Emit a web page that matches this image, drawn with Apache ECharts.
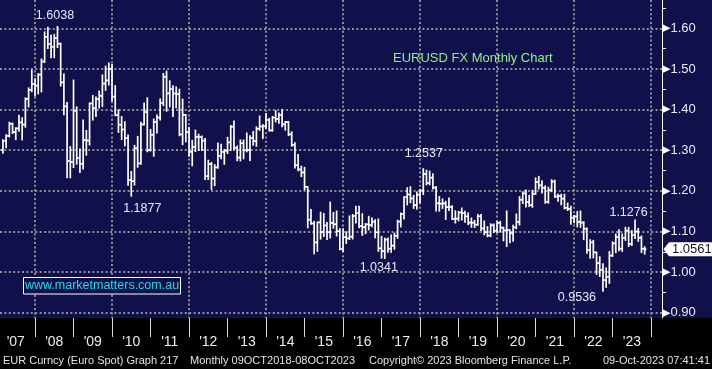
<!DOCTYPE html>
<html><head><meta charset="utf-8">
<script src="https://cdn.jsdelivr.net/npm/echarts@6/dist/echarts.min.js"></script>
<style>html,body{margin:0;padding:0;background:#000;}#c{width:712px;height:369px;}</style>
</head><body><div id="c"></div>
<script>
// ---------------- DATA ----------------
const firstMonth = '2007-02';   // first monthly bar; bars are consecutive months to Oct 2023
const opens = [
  1.2999,1.3231,1.3354,1.3651,1.3447,1.3537,1.3683,1.3632,1.4265,1.4487,1.4628,
  1.4589,1.4861,1.5183,1.5790,1.5613,1.5546,1.5760,1.5620,1.4670,1.4078,1.2730,1.2710,
  1.3971,1.2803,1.2667,1.3249,1.3236,1.4150,1.4033,1.4261,1.4336,1.4640,1.4720,1.5002,
  1.4321,1.3864,1.3628,1.3509,1.3295,1.2270,1.2238,1.3048,1.2675,1.3634,1.3938,1.3000,
  1.3380,1.3696,1.3804,1.4165,1.4807,1.4397,1.4502,1.4395,1.4380,1.3390,1.3870,1.3446,
  1.2961,1.3081,1.3327,1.3322,1.3237,1.2364,1.2660,1.2302,1.2577,1.2860,1.2959,1.2988,
  1.3193,1.3578,1.3058,1.2819,1.3171,1.2999,1.3009,1.3302,1.3224,1.3528,1.3584,1.3590,
  1.3743,1.3486,1.3802,1.3770,1.3868,1.3636,1.3692,1.3390,1.3131,1.2631,1.2526,1.2452,
  1.2098,1.1291,1.1196,1.0731,1.1224,1.0987,1.1147,1.0985,1.1211,1.1177,1.1005,1.0566,
  1.0861,1.0832,1.0872,1.1381,1.1455,1.1131,1.1105,1.1174,1.1157,1.1240,1.0980,1.0586,
  1.0517,1.0798,1.0575,1.0652,1.0895,1.1243,1.1426,1.1842,1.1910,1.1813,1.1646,1.1904,
  1.2005,1.2414,1.2194,1.2324,1.2079,1.1693,1.1684,1.1690,1.1601,1.1604,1.1312,1.1316,
  1.1467,1.1448,1.1372,1.1217,1.1215,1.1168,1.1373,1.1076,1.0986,1.0899,1.1152,1.1017,
  1.1213,1.1093,1.1025,1.1031,1.0955,1.1099,1.1234,1.1779,1.1936,1.1722,1.1646,1.1928,
  1.2216,1.2136,1.2074,1.1730,1.2020,1.2228,1.1858,1.1870,1.1808,1.1580,1.1558,1.1338,
  1.1370,1.1235,1.1218,1.1067,1.0544,1.0733,1.0484,1.0220,1.0054,0.9802,0.9883,1.0406,
  1.0705,1.0863,1.0576,1.0839,1.1020,1.0690,1.0909,1.0998,1.0843,1.0573
];
const highs = [
  1.3250,1.3375,1.3682,1.3660,1.3545,1.3852,1.3790,1.4280,1.4527,1.4967,1.4752,
  1.4877,1.5238,1.5904,1.6018,1.5819,1.5842,1.6038,1.5628,1.4867,1.4167,1.3080,1.4719,
  1.4060,1.3020,1.3738,1.3480,1.4155,1.4338,1.4301,1.4448,1.4843,1.5061,1.5144,1.5099,
  1.4580,1.3988,1.3820,1.3690,1.3366,1.2468,1.3111,1.3333,1.3681,1.4157,1.4282,1.3500,
  1.3760,1.3862,1.4250,1.4882,1.4940,1.4700,1.4580,1.4549,1.4495,1.4247,1.3870,1.3550,
  1.3234,1.3487,1.3386,1.3340,1.3283,1.2747,1.2692,1.2637,1.3173,1.3140,1.3010,1.3308,
  1.3600,1.3711,1.3096,1.3243,1.3243,1.3416,1.3346,1.3452,1.3568,1.3833,1.3620,1.3893,
  1.3775,1.3824,1.3967,1.3906,1.3993,1.3700,1.3700,1.3444,1.3176,1.2887,1.2601,1.2570,
  1.2100,1.1535,1.1240,1.1225,1.1467,1.1436,1.1216,1.1714,1.1460,1.1495,1.1060,1.1060,
  1.0986,1.1376,1.1410,1.1615,1.1616,1.1428,1.1186,1.1366,1.1327,1.1278,1.1300,1.0874,
  1.0829,1.0829,1.0906,1.0951,1.1268,1.1446,1.1846,1.2070,1.2092,1.1880,1.1961,1.2023,
  1.2537,1.2500,1.2476,1.2414,1.2097,1.1852,1.1791,1.1734,1.1815,1.1625,1.1500,1.1486,
  1.1570,1.1489,1.1448,1.1324,1.1265,1.1412,1.1412,1.1250,1.1110,1.1180,1.1176,1.1240,
  1.1239,1.1095,1.1496,1.1035,1.1147,1.1422,1.1848,1.1966,1.2011,1.1881,1.2004,1.2310,
  1.2349,1.2243,1.2113,1.2080,1.2266,1.2254,1.1908,1.1909,1.1909,1.1692,1.1616,1.1386,
  1.1483,1.1495,1.1233,1.1076,1.0787,1.0774,1.0486,1.0369,1.0198,1.0094,1.0497,1.0736,
  1.0929,1.1033,1.0930,1.1095,1.1092,1.1012,1.1276,1.1065,1.0882,1.0617
];
const lows = [
  1.2930,1.3070,1.3335,1.3418,1.3268,1.3475,1.3261,1.3575,1.4072,1.4447,1.4340,
  1.4395,1.4442,1.5164,1.5510,1.5285,1.5285,1.5533,1.4588,1.3881,1.2330,1.2329,1.2580,
  1.2664,1.2457,1.2547,1.2885,1.3135,1.3748,1.3834,1.4045,1.4082,1.4481,1.4612,1.4218,
  1.3856,1.3444,1.3268,1.3114,1.2143,1.1877,1.2152,1.2589,1.2661,1.3628,1.2969,1.2990,
  1.2860,1.3430,1.3750,1.4105,1.3968,1.4075,1.3837,1.4052,1.3362,1.3145,1.3213,1.2858,
  1.2624,1.2975,1.3003,1.3000,1.2287,1.2288,1.2042,1.2134,1.2563,1.2800,1.2661,1.2926,
  1.3000,1.3017,1.2750,1.2745,1.2795,1.2968,1.2755,1.3131,1.3105,1.3497,1.3295,1.3545,
  1.3480,1.3476,1.3704,1.3673,1.3586,1.3503,1.3366,1.3105,1.2571,1.2500,1.2358,1.2034,
  1.1098,1.1183,1.0458,1.0520,1.0819,1.0885,1.0809,1.0847,1.1087,1.0897,1.0556,1.0516,
  1.0711,1.0810,1.0822,1.1218,1.1098,1.0912,1.0952,1.1046,1.1122,1.0852,1.0518,1.0352,
  1.0341,1.0494,1.0494,1.0569,1.0839,1.1118,1.1312,1.1662,1.1717,1.1575,1.1554,1.1718,
  1.1916,1.2154,1.2155,1.2055,1.1510,1.1508,1.1576,1.1301,1.1526,1.1302,1.1216,1.1269,
  1.1289,1.1234,1.1176,1.1110,1.1107,1.1160,1.1028,1.0926,1.0879,1.0879,1.0981,1.0981,
  1.0992,1.0778,1.0636,1.0727,1.0767,1.1077,1.1168,1.1696,1.1612,1.1622,1.1603,1.1924,
  1.2054,1.1952,1.1704,1.1704,1.1986,1.1847,1.1752,1.1664,1.1563,1.1524,1.1186,1.1222,
  1.1121,1.1106,1.0806,1.0471,1.0349,1.0359,0.9952,0.9901,0.9536,0.9632,0.9730,1.0393,
  1.0483,1.0533,1.0516,1.0788,1.0635,1.0662,1.0834,1.0766,1.0488,1.0448
];
const closes = [
  1.3231,1.3354,1.3651,1.3447,1.3537,1.3683,1.3632,1.4265,1.4487,1.4628,1.4589,
  1.4861,1.5183,1.5790,1.5613,1.5546,1.5760,1.5620,1.4670,1.4078,1.2730,1.2710,1.3971,
  1.2803,1.2667,1.3249,1.3236,1.4150,1.4033,1.4261,1.4336,1.4640,1.4720,1.5002,1.4321,
  1.3864,1.3628,1.3509,1.3295,1.2270,1.2238,1.3048,1.2675,1.3634,1.3938,1.3000,1.3380,
  1.3696,1.3804,1.4165,1.4807,1.4397,1.4502,1.4395,1.4380,1.3390,1.3870,1.3446,1.2961,
  1.3081,1.3327,1.3322,1.3237,1.2364,1.2660,1.2302,1.2577,1.2860,1.2959,1.2988,1.3193,
  1.3578,1.3058,1.2819,1.3171,1.2999,1.3009,1.3302,1.3224,1.3528,1.3584,1.3590,1.3743,
  1.3486,1.3802,1.3770,1.3868,1.3636,1.3692,1.3390,1.3131,1.2631,1.2526,1.2452,1.2098,
  1.1291,1.1196,1.0731,1.1224,1.0987,1.1147,1.0985,1.1211,1.1177,1.1005,1.0566,1.0861,
  1.0832,1.0872,1.1381,1.1455,1.1131,1.1105,1.1174,1.1157,1.1240,1.0980,1.0586,1.0517,
  1.0798,1.0575,1.0652,1.0895,1.1243,1.1426,1.1842,1.1910,1.1813,1.1646,1.1904,1.2005,
  1.2414,1.2194,1.2324,1.2079,1.1693,1.1684,1.1690,1.1601,1.1604,1.1312,1.1316,1.1467,
  1.1448,1.1372,1.1217,1.1215,1.1168,1.1373,1.1076,1.0986,1.0899,1.1152,1.1017,1.1213,
  1.1093,1.1025,1.1031,1.0955,1.1099,1.1234,1.1779,1.1936,1.1722,1.1646,1.1928,1.2216,
  1.2136,1.2074,1.1730,1.2020,1.2228,1.1858,1.1870,1.1808,1.1580,1.1558,1.1338,1.1370,
  1.1235,1.1218,1.1067,1.0544,1.0733,1.0484,1.0220,1.0054,0.9802,0.9883,1.0406,1.0705,
  1.0863,1.0576,1.0839,1.1020,1.0690,1.0909,1.0998,1.0843,1.0573,1.0561
];
const yTickLabels  = ['0.90','1.00','1.10','1.20','1.30','1.40','1.50','1.60'];
const yMinorLabels = ['0.95','1.05','1.15','1.25','1.35','1.45','1.55','1.65'];
const yearLabels = ["'07","'08","'09","'10","'11","'12","'13","'14","'15","'16","'17","'18","'19","'20","'21","'22","'23"];
const annotMonths = ['2008-07','2010-06','2018-01','2017-01','2023-07','2022-09'];
const annotValues = [1.6038, 1.1877, 1.2537, 1.0341, 1.1276, 0.9536];
const titleText = 'EURUSD FX Monthly Chart';
const watermarkText = 'www.marketmatters.com.au';
const footerA = 'EUR Curncy (Euro Spot) Graph 217';
const footerB = 'Monthly 09OCT2018-08OCT2023';
const footerC = 'Copyright\u00A9 2023 Bloomberg Finance L.P.';
const footerD = '09-Oct-2023 07:41:41';

// ---------------- HELPERS ----------------
const BASE_YEAR = 2007;
function monthIndex(s) { const p = s.split('-'); return (+p[0] - BASE_YEAR) * 12 + (+p[1] - 1); }
function barX(s) { return monthIndex(s) + 1; }   // bar drawn at month end
const startIdx = monthIndex(firstMonth);
const ohlc = closes.map((c, k) => [startIdx + k + 1, opens[k], highs[k], lows[k], c]);
const yearMid = yearLabels.map((l, k) => k * 12 + 6);
const yearTicks = yearLabels.map((l, k) => (k + 1) * 12);
const gridV = yearTicks.filter((v, k) => k % 2 === 0);

const NAVY = '#10104a';
const FONT = '"Liberation Sans", Arial, sans-serif';
const X_MIN = 1.09, X_MAX = 207.4, Y_MIN = 0.887, Y_MAX = 1.6697;
const gridLine = { color: '#8e8e96', width: 2, type: [2, 2.4] };
const annotOffsets = [[-2.5, -11], [11, 13], [0.5, -15], [-6, 9], [-6.5, -8], [-26, 6.5]];

const chart = echarts.init(document.getElementById('c'), null, { renderer: 'canvas' });

chart.setOption({
  animation: false,
  backgroundColor: NAVY,
  title: {
    text: titleText, left: 393, top: 52, padding: 0,
    textStyle: { color: '#8fef8f', fontSize: 13, fontWeight: 'normal', fontFamily: FONT }
  },
  grid: { left: 0, right: 50, top: 0, bottom: 51, outerBoundsMode: 'none', containLabel: false },
  xAxis: [
    { // footer axis: year ticks + labels
      type: 'value', min: X_MIN, max: X_MAX, position: 'bottom',
      axisLine: { show: false },
      axisTick: { show: true, customValues: yearTicks, length: 19, lineStyle: { color: '#d8d8d8', width: 1 } },
      axisLabel: {
        show: true, customValues: yearMid, margin: 17,
        formatter: v => yearLabels[Math.round((v - 6) / 12)],
        color: '#ececec', fontSize: 14, fontFamily: FONT
      },
      splitLine: { show: false }
    },
    { // vertical dotted grid every two years
      type: 'value', min: X_MIN, max: X_MAX, position: 'top',
      axisLine: { show: false }, axisLabel: { show: false },
      axisTick: { show: false, customValues: gridV },
      splitLine: { show: true, lineStyle: gridLine }
    }
  ],
  yAxis: [
    {
      type: 'value', min: Y_MIN, max: Y_MAX, position: 'right',
      axisLine: { show: true, lineStyle: { color: '#ffffff', width: 1 } },
      axisTick: { show: false, customValues: yTickLabels.map(Number) },
      axisLabel: {
        show: true, customValues: yTickLabels.map(Number), margin: 0,
        formatter: v => '{t|\u25B6}{v|' + v.toFixed(2) + '}',
        rich: {
          t: { fontSize: 11, color: '#ffffff', fontFamily: '"DejaVu Sans", sans-serif' },
          v: { fontSize: 13, color: '#e8ebf8', fontFamily: FONT, padding: [0, 0, 0, 0] }
        }
      },
      splitLine: { show: true, lineStyle: gridLine }
    },
    {
      type: 'value', min: Y_MIN, max: Y_MAX, position: 'right',
      axisLine: { show: false }, axisLabel: { show: false }, splitLine: { show: false },
      axisTick: { show: true, customValues: yMinorLabels.map(Number), length: 4, lineStyle: { color: '#ffffff', width: 1 } }
    }
  ],
  series: [{
    type: 'custom',
    name: 'EURUSD',
    xAxisIndex: 0, yAxisIndex: 0,
    data: ohlc,
    encode: { x: 0, y: [1, 2, 3, 4] },
    renderItem: function (params, api) {
      const x = api.value(0);
      const o = api.coord([x, api.value(1)]);
      const h = api.coord([x, api.value(2)]);
      const l = api.coord([x, api.value(3)]);
      const c = api.coord([x, api.value(4)]);
      const w = api.size([1, 0])[0] * 0.55;
      const st = { stroke: '#ffffff', lineWidth: 1.7 };
      return {
        type: 'group',
        children: [
          { type: 'line', shape: { x1: h[0], y1: h[1] - 0.8, x2: l[0], y2: l[1] + 0.8 }, style: st },
          { type: 'line', shape: { x1: o[0] - w, y1: o[1], x2: o[0], y2: o[1] }, style: st },
          { type: 'line', shape: { x1: c[0], y1: c[1], x2: c[0] + w, y2: c[1] }, style: st }
        ]
      };
    },
    markPoint: {
      symbol: 'circle', symbolSize: 0, silent: true,
      data: annotMonths.map((m, k) => ({
        name: annotValues[k].toFixed(4),
        coord: [barX(m), annotValues[k]],
        label: { offset: annotOffsets[k] }
      })),
      label: {
        show: true, position: 'inside', formatter: '{b}',
        color: '#e4e9ff', fontSize: 12.5, fontFamily: FONT
      }
    }
  }],
  graphic: [
    { id: 'footerBg', type: 'rect', z: -1, shape: { x: 0, y: 318, width: 712, height: 51 }, style: { fill: '#000000' } },
    { id: 'wmBox', type: 'rect', z: 10, shape: { x: 23.5, y: 277.5, width: 157, height: 16.5 }, style: { fill: NAVY, stroke: '#ffffff', lineWidth: 1 } },
    { id: 'wmText', type: 'text', z: 11, x: 102, y: 286, style: { text: watermarkText, fill: '#22dbe8', font: '12.5px ' + FONT, textAlign: 'center', textVerticalAlign: 'middle' } },
    { id: 'fA', type: 'text', z: 5, x: 3, y: 361, style: { text: footerA, fill: '#e2e2e2', font: '11px ' + FONT, textVerticalAlign: 'middle' } },
    { id: 'fB', type: 'text', z: 5, x: 190, y: 361, style: { text: footerB, fill: '#e2e2e2', font: '11px ' + FONT, textVerticalAlign: 'middle' } },
    { id: 'fC', type: 'text', z: 5, x: 369, y: 361, style: { text: footerC, fill: '#e2e2e2', font: '11px ' + FONT, textVerticalAlign: 'middle' } },
    { id: 'fD', type: 'text', z: 5, x: 710, y: 361, style: { text: footerD, fill: '#e2e2e2', font: '11px ' + FONT, textAlign: 'right', textVerticalAlign: 'middle' } }
  ]
});

// last-price tag on the right axis
const lastClose = closes[closes.length - 1];
const ty = chart.convertToPixel({ yAxisIndex: 0 }, lastClose);
chart.setOption({
  graphic: [
    { id: 'tagBox', type: 'polygon', z: 20, shape: { points: [[663.5, ty], [669, ty - 7], [713, ty - 7], [713, ty + 7], [669, ty + 7]] }, style: { fill: '#ffffff' } },
    { id: 'tagText', type: 'text', z: 21, x: 672, y: ty, style: { text: lastClose.toFixed(4), fill: '#151515', font: '13px ' + FONT, textVerticalAlign: 'middle' } }
  ]
});
</script>
</body></html>
